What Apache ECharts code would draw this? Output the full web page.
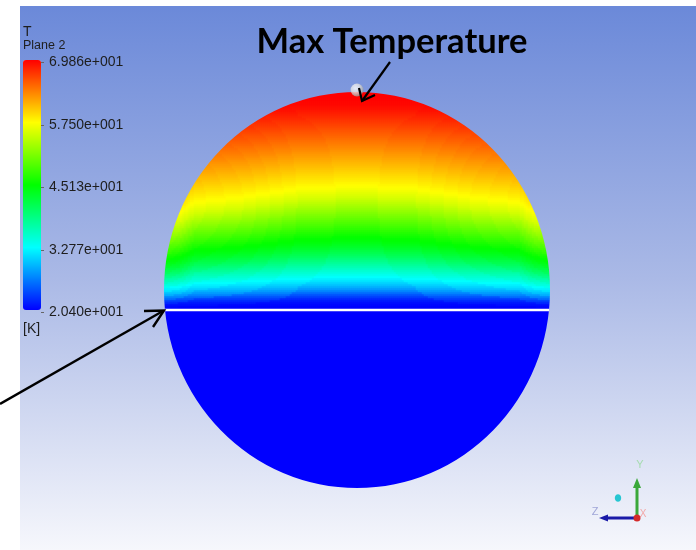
<!DOCTYPE html>
<html>
<head>
<meta charset="utf-8">
<script src="https://cdn.jsdelivr.net/npm/echarts@6/dist/echarts.min.js"></script>
<style>
  html, body { margin: 0; padding: 0; background: #ffffff; }
  #chart { width: 696px; height: 550px; }
</style>
</head>
<body>
<div id="chart"></div>
<script>
// Temperature contour on Plane 2 (K)

// Legend scale ticks
const legendTicks = [20.40, 32.77, 45.13, 57.50, 69.86];

// Temperature along the vertical centre line, from the interface (bottom) up to the top of the disc,
// one value per 2 px row
const tempProfile = [
  20.40, 20.50, 20.70, 21.00, 21.50, 22.30, 23.30, 24.40, 25.60, 26.80,
  27.90, 28.90, 29.80, 30.60, 31.40, 32.10, 32.80, 33.50, 34.20, 34.90,
  35.60, 36.30, 37.00, 37.70, 38.40, 39.10, 39.80, 40.50, 41.20, 41.80,
  42.40, 43.00, 43.50, 44.00, 44.50, 44.90, 45.30, 45.80, 46.30, 46.80,
  47.30, 47.80, 48.30, 48.80, 49.30, 49.80, 50.30, 50.80, 51.30, 51.80,
  52.30, 52.80, 53.30, 53.80, 54.30, 54.80, 55.30, 55.70, 56.10, 56.50,
  56.90, 57.30, 57.60, 57.90, 58.20, 58.50, 58.80, 59.10, 59.40, 59.70,
  60.00, 60.30, 60.60, 60.90, 61.20, 61.50, 61.80, 62.10, 62.40, 62.70,
  63.00, 63.30, 63.60, 63.90, 64.20, 64.50, 64.80, 65.10, 65.40, 65.70,
  66.00, 66.30, 66.60, 66.90, 67.20, 67.50, 67.80, 68.10, 68.40, 68.70,
  69.00, 69.20, 69.40, 69.50, 69.60, 69.70, 69.80, 69.85, 69.86
];

// Temperature of the cold lower half
const coldTemp = 20.40;

// Isotherms sag towards the rim, most at mid height: sag strength vs. |x| (x normalised to the disc radius)
const curveX = [0.00, 0.30, 0.60, 0.84, 0.92, 1.00];
const curveSag = [0.00, 0.05, 0.21, 0.30, 0.50, 0.60];

// Interface height (normalised, -1 bottom .. 1 top) and location of the maximum temperature
const interfaceLevel = -0.101;
const maxPoint = [0, 1.01];

// ---- build the heatmap cells ----
const nCols = 193, nRows = 198;
const xCats = Array.from({ length: nCols }, (_, i) => i);
const yCats = Array.from({ length: nRows }, (_, i) => i);
const baseRow = Math.round((interfaceLevel + 1) / 2 * nRows);
const topRow = tempProfile.length - 1;

function sagAt(ax) {
  for (let i = 1; i < curveX.length; i++) {
    if (ax <= curveX[i]) {
      const t = (ax - curveX[i - 1]) / (curveX[i] - curveX[i - 1]);
      return curveSag[i - 1] + t * (curveSag[i] - curveSag[i - 1]);
    }
  }
  return curveSag[curveSag.length - 1];
}

// cells slightly overhang the rim; the rim itself is cut cleanly by the mask series
const cells = [];
for (let c = 0; c < nCols; c++) {
  const xn = (c + 0.5) / nCols * 2 - 1;
  const s = sagAt(Math.abs(xn));
  for (let r = 0; r < nRows; r++) {
    const yn = (r + 0.5) / nRows * 2 - 1;
    if (xn * xn + yn * yn > 1.04) continue;
    let v;
    if (r < baseRow) {
      v = coldTemp;
    } else {
      const h = r - baseRow;
      const shift = s * h * Math.max(0, 1 - h / topRow);
      const idx = Math.min(topRow, Math.round(h + shift));
      v = tempProfile[idx];
    }
    cells.push([c, r, v]);
  }
}

const chordHalf = Math.sqrt(1 - interfaceLevel * interfaceLevel);
const interfaceLine = [[-chordHalf, interfaceLevel], [chordHalf, interfaceLevel]];

function sciLabel(v) {
  const parts = Number(v).toExponential(3).split('e');
  const e = parseInt(parts[1], 10);
  return parts[0] + 'e' + (e < 0 ? '-' : '+') + String(Math.abs(e)).padStart(3, '0');
}

const chart = echarts.init(document.getElementById('chart'), null, { renderer: 'canvas' });
const G = echarts.graphic;

// viewport gradient, in page coordinates so the rim mask blends seamlessly
function viewportFill() {
  return new G.LinearGradient(0, 6, 0, 550, [
    { offset: 0, color: '#6b89d9' },
    { offset: 0.5, color: '#aab9e6' },
    { offset: 1, color: '#f6f7fc' }
  ], true);
}

// disc geometry (matches grid 0)
const disc = { left: 164, top: 92, width: 386, height: 396 };
const cx = disc.left + disc.width / 2, cy = disc.top + disc.height / 2;
const rx = disc.width / 2, ry = disc.height / 2;
const pad = 8;
const maskRect = { x: disc.left - pad, y: disc.top - pad, width: disc.width + 2 * pad, height: disc.height + 2 * pad };
const maskPath =
  'M' + maskRect.x + ' ' + maskRect.y +
  ' H' + (maskRect.x + maskRect.width) +
  ' V' + (maskRect.y + maskRect.height) +
  ' H' + maskRect.x + ' Z ' +
  'M' + (cx - rx) + ' ' + cy +
  ' A' + rx + ' ' + ry + ' 0 1 0 ' + (cx + rx) + ' ' + cy +
  ' A' + rx + ' ' + ry + ' 0 1 0 ' + (cx - rx) + ' ' + cy + ' Z';

chart.setOption({
  animation: false,
  backgroundColor: '#ffffff',
  grid: [
    { left: disc.left, top: disc.top, width: disc.width, height: disc.height },
    { left: disc.left, top: disc.top, width: disc.width, height: disc.height },
    { left: 41, top: 62.5, width: 1, height: 250 }
  ],
  xAxis: [
    { type: 'category', data: xCats, gridIndex: 0, show: false },
    { type: 'value', min: -1, max: 1, gridIndex: 1, show: false },
    { type: 'value', min: 0, max: 1, gridIndex: 2, show: false }
  ],
  yAxis: [
    { type: 'category', data: yCats, gridIndex: 0, show: false },
    { type: 'value', min: -1, max: 1, gridIndex: 1, show: false },
    {
      type: 'value', gridIndex: 2, position: 'right',
      min: legendTicks[0], max: legendTicks[legendTicks.length - 1],
      axisLine: { show: false },
      splitLine: { show: false },
      axisTick: { show: true, inside: false, length: 3, customValues: legendTicks,
                  lineStyle: { color: '#666666', width: 1 } },
      axisLabel: {
        show: true, margin: 7, customValues: legendTicks,
        showMinLabel: true, showMaxLabel: true,
        color: '#1e1e1e', fontSize: 14, fontFamily: '"Liberation Sans", Arial, sans-serif',
        formatter: sciLabel
      }
    }
  ],
  visualMap: {
    type: 'continuous',
    seriesIndex: 0,
    min: legendTicks[0],
    max: legendTicks[legendTicks.length - 1],
    left: 23, top: 60,
    padding: 0,
    itemWidth: 18, itemHeight: 250,
    calculable: false,
    hoverLink: false,
    text: null,
    inRange: { color: ['#0000ff', '#00ffff', '#00ff00', '#ffff00', '#ff0000'] }
  },
  series: [
    {
      type: 'heatmap',
      xAxisIndex: 0, yAxisIndex: 0,
      data: cells,
      progressive: 0,
      itemStyle: { borderWidth: 0 },
      emphasis: { disabled: true },
      silent: true
    },
    {
      // rim mask: background with an elliptical hole over the disc
      type: 'custom',
      coordinateSystem: 'none',
      data: [0],
      silent: true,
      z: 3,
      renderItem: function () {
        return {
          type: 'path',
          shape: {
            pathData: maskPath,
            x: maskRect.x, y: maskRect.y, width: maskRect.width, height: maskRect.height,
            layout: 'cover'
          },
          style: { fill: viewportFill(), stroke: null }
        };
      }
    },
    {
      type: 'line',
      xAxisIndex: 1, yAxisIndex: 1,
      data: interfaceLine,
      symbol: 'none',
      lineStyle: { color: '#ffffff', width: 2.6 },
      silent: true,
      z: 5
    },
    {
      type: 'scatter',
      xAxisIndex: 1, yAxisIndex: 1,
      data: [maxPoint],
      clip: false,
      symbol: 'circle',
      symbolSize: 13,
      itemStyle: {
        color: {
          type: 'radial', x: 0.38, y: 0.35, r: 0.7,
          colorStops: [
            { offset: 0, color: '#ffffff' },
            { offset: 0.5, color: '#e2e2e2' },
            { offset: 1, color: '#8c8c8c' }
          ]
        }
      },
      silent: true,
      z: 6
    }
  ],
  graphic: [
    // viewport background
    {
      type: 'rect', z: -10, silent: true,
      shape: { x: 20, y: 6, width: 676, height: 544 },
      style: { fill: viewportFill() }
    },
    // legend header
    { type: 'text', z: 10, x: 23, y: 32, style: { text: 'T', font: '14px "Liberation Sans", Arial, sans-serif', fill: '#1e1e1e', textVerticalAlign: 'middle' } },
    { type: 'text', z: 10, x: 23, y: 46, style: { text: 'Plane 2', font: '12.5px "Liberation Sans", Arial, sans-serif', fill: '#1e1e1e', textVerticalAlign: 'middle' } },
    { type: 'text', z: 10, x: 23, y: 329, style: { text: '[K]', font: '14px "Liberation Sans", Arial, sans-serif', fill: '#1e1e1e', textVerticalAlign: 'middle' } },
    // annotation
    { type: 'text', z: 10, x: 392, y: 42, style: { text: 'Max Temperature', font: 'bold 34.5px Lato, "Open Sans", sans-serif', fill: '#000000', textAlign: 'center', textVerticalAlign: 'middle' } },
    { type: 'polyline', z: 10, shape: { points: [[390, 62], [362, 101]] }, style: { stroke: '#000000', lineWidth: 2.2, fill: null } },
    { type: 'polyline', z: 10, shape: { points: [[359, 88], [362, 101], [375, 95]] }, style: { stroke: '#000000', lineWidth: 2.2, fill: null } },
    { type: 'polyline', z: 10, shape: { points: [[0, 404], [163, 311]] }, style: { stroke: '#000000', lineWidth: 2.4, fill: null } },
    { type: 'polyline', z: 10, shape: { points: [[144, 311], [164, 310.5], [153, 327]] }, style: { stroke: '#000000', lineWidth: 2.4, fill: null } },
    // axis triad
    { type: 'line', z: 10, shape: { x1: 637, y1: 518, x2: 637, y2: 486 }, style: { stroke: '#3aa83a', lineWidth: 3 } },
    { type: 'polygon', z: 10, shape: { points: [[637, 478], [633, 488], [641, 488]] }, style: { fill: '#3aa83a' } },
    { type: 'line', z: 10, shape: { x1: 637, y1: 518, x2: 606, y2: 518 }, style: { stroke: '#1a1aa8', lineWidth: 3 } },
    { type: 'polygon', z: 10, shape: { points: [[599, 518], [608, 514.5], [608, 521.5]] }, style: { fill: '#1a1aa8' } },
    { type: 'circle', z: 11, shape: { cx: 637, cy: 518, r: 3.5 }, style: { fill: '#d42a2a' } },
    { type: 'ellipse', z: 10, shape: { cx: 618, cy: 498, rx: 3.2, ry: 3.8 }, style: { fill: '#26c6d2' } },
    { type: 'text', z: 10, x: 640, y: 465, style: { text: 'Y', font: '11px "Liberation Sans", Arial, sans-serif', fill: '#a6dcb0', textAlign: 'center', textVerticalAlign: 'middle' } },
    { type: 'text', z: 10, x: 595, y: 512, style: { text: 'Z', font: '11px "Liberation Sans", Arial, sans-serif', fill: '#a0a6d8', textAlign: 'center', textVerticalAlign: 'middle' } },
    { type: 'text', z: 10, x: 643, y: 514, style: { text: 'X', font: '10px "Liberation Sans", Arial, sans-serif', fill: '#f2a8a8', textAlign: 'center', textVerticalAlign: 'middle' } }
  ]
});
</script>
</body>
</html>
